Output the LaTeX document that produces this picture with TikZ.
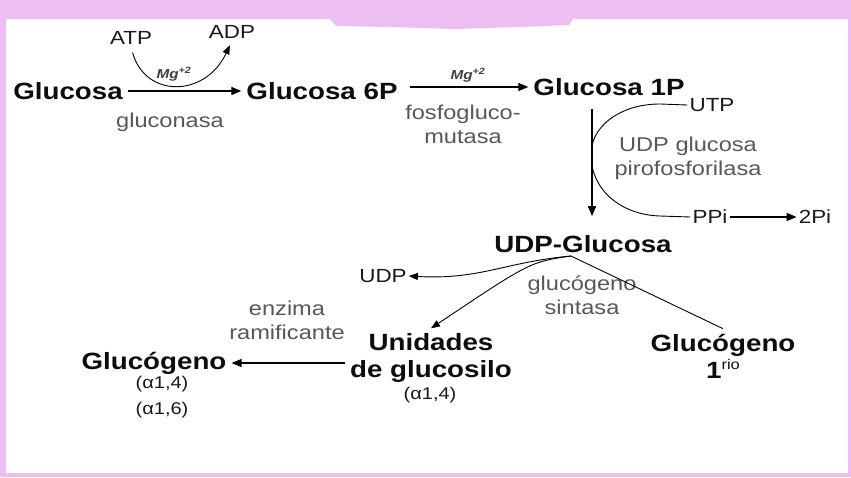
\documentclass[tikz,border=0pt]{standalone}
\usepackage{fontspec}
\setmainfont{Liberation Sans}[FakeStretch=1.18]
\usetikzlibrary{arrows.meta}
\definecolor{lila}{RGB}{236,190,242}
\definecolor{enzgray}{RGB}{88,88,88}
\newcommand{\metfont}{\fontsize{23.5}{27}\selectfont\bfseries}
\newcommand{\coffont}{\fontsize{19}{22}\selectfont}
\newcommand{\enzfont}{\fontsize{20}{24}\selectfont}
\newcommand{\alfont}{\fontsize{17}{26}\selectfont}
\newcommand{\mgfont}{\fontsize{13}{14}\selectfont\bfseries\itshape}
\newcommand{\riofont}{\fontsize{14}{14}\selectfont\mdseries}
\begin{document}
\begin{tikzpicture}[x=1pt,y=-1pt,
    met/.style={inner sep=5pt, font=\metfont, text=black!95, align=center},
    cof/.style={inner sep=2pt, font=\coffont, text=black!90, align=center},
    enz/.style={inner sep=0pt, font=\enzfont, text=enzgray, align=center},
    mgl/.style={inner sep=0pt, font=\mgfont, text=black!75},
    rxn/.style={line width=1.3pt, -{Triangle[length=10pt,width=8pt]}},
    side/.style={line width=0.9pt}]
  \fill[lila] (0,0) rectangle (851,477);
  \fill[white] (6,19) rectangle (848,473);
  \fill[lila] (330,19) -- (573,19) -- (569,25) -- (520,27) -- (455,29) -- (390,27) -- (336,26) -- cycle;

  \node[met] (glc) at (68,91) {Glucosa};
  \node[met] (g6p) at (322,91) {Glucosa 6P};
  \node[met] (g1p) at (609,87) {Glucosa 1P};
  \node[met] (udpg) at (583,244) {UDP-Glucosa};
  \node[met] (uni) at (431,358) {Unidades\\de glucosilo};
  \node[met] (glyc) at (154,363) {Glucógeno};
  \node[met] (prim) at (723,356) {Glucógeno\\1\raisebox{9pt}{\riofont rio}};

  \node[cof] (atp) at (131,38) {ATP};
  \node[cof] (adp) at (232,32) {ADP};
  \node[cof] (utp) at (712,105) {UTP};
  \node[cof] (ppi) at (710,217) {PPi};
  \node[cof] (pi2) at (815,217) {2Pi};
  \node[cof] (udp) at (383,276) {UDP};
  \node[cof, font=\alfont] (glya) at (162,397) {(α1,4)\\(α1,6)};
  \node[cof, font=\alfont] (unia) at (430,395) {(α1,4)};

  \node[enz] (glk) at (170,122) {gluconasa};
  \node[enz] (pgm) at (463,124) {fosfogluco-\\mutasa};
  \node[enz] (ugp) at (688,158) {UDP glucosa\\pirofosforilasa};
  \node[enz] (gys) at (582,295) {glucógeno\\sintasa};
  \node[enz] (gbe) at (287,320) {enzima\\ramificante};
  \node[mgl] (mg1) at (174,74) {Mg\textsuperscript{+2}};
  \node[mgl] (mg2) at (468,75) {Mg\textsuperscript{+2}};

  \coordinate (top) at (571,256);

  \draw[rxn] (glc.east) -- (g6p.west);
  \draw[rxn, shorten <=7pt] (g1p.west -| g6p.east) -- (g1p.west);
  \draw[side, -{Triangle[length=9pt,width=7pt]}, shorten <=6pt, shorten >=5pt] (atp.south) .. controls (145,98) and (205,98) .. (adp.south);
  \draw[rxn, shorten <=8pt, shorten >=14pt] ([xshift=-17pt]g1p.south) -- ([xshift=9pt]udpg.north);
  \draw[side] (utp.west) -- (660,104) .. controls (622,104) and (596,124) .. (592,146) -- (592,166) .. controls (598,196) and (626,215) .. (660,216) -- (ppi.west);
  \draw[rxn] (ppi) -- (pi2);
  \draw[side] (prim.north) -- (top);
  \draw[side, -{Triangle[length=9pt,width=7pt]}] (top) .. controls (505,262) and (480,280) .. (udp.east);
  \draw[side, -{Triangle[length=9pt,width=7pt]}] (top) .. controls (530,262) .. (uni.north);
  \draw[rxn] (glyc.east -| uni.west) -- (glyc.east);
\end{tikzpicture}
\end{document}
